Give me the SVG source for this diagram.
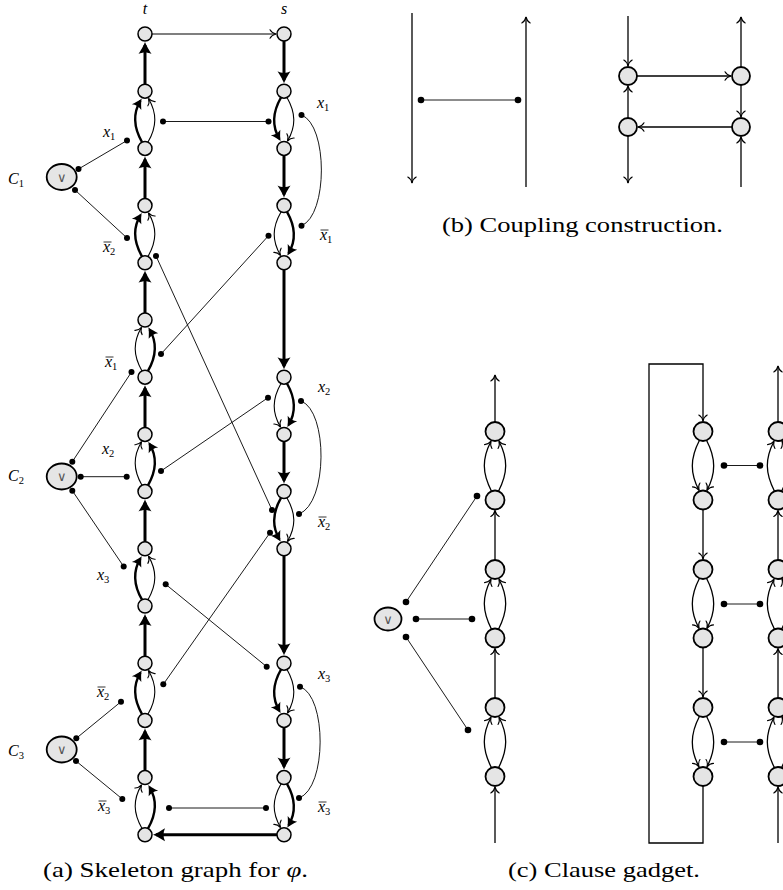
<svg xmlns="http://www.w3.org/2000/svg" width="783" height="890" viewBox="0 0 783 890">
<defs>
<style>
.n{fill:#e5e5e5;stroke:#000;stroke-width:1.5}
.nb{fill:#e5e5e5;stroke:#000;stroke-width:1.8}
.thin{fill:none;stroke:#000;stroke-width:1.1;marker-end:url(#ah)}
.thin2{fill:none;stroke:#000;stroke-width:1.3;marker-end:url(#ah)}
.thk{fill:none;stroke:#000;stroke-width:3;marker-end:url(#ahk)}
.thka{fill:none;stroke:#000;stroke-width:2.4;marker-end:url(#ahs)}
.cp{fill:none;stroke:#000;stroke-width:0.9}
.dot{fill:#000}
.lab{font-family:"Liberation Serif","Times New Roman",serif;font-style:italic;font-size:16px}
.sub{font-style:normal;font-size:10.5px}
.bar{stroke:#000;stroke-width:0.8}
.or{font-family:"DejaVu Sans",sans-serif;font-size:13px;fill:#555;text-anchor:middle}
.cap{font-family:"Liberation Serif","Times New Roman",serif;font-size:22px}
</style>
<marker id="ah" viewBox="-8 -6 10 12" refX="0" refY="0" markerWidth="10" markerHeight="12" markerUnits="userSpaceOnUse" orient="auto" overflow="visible">
<path d="M-6,-4.2 C-4.8,-1.8 -2,-0.5 0,0 C-2,0.5 -4.8,1.8 -6,4.2" fill="none" stroke="#000" stroke-width="1.1" stroke-linecap="round"/>
</marker>
<marker id="ahk" viewBox="-14 -8 16 16" refX="-3" refY="0" markerWidth="16" markerHeight="16" markerUnits="userSpaceOnUse" orient="auto" overflow="visible">
<path d="M0,0 C-4,-1.5 -8,-4 -12,-6.5 C-10,-2.5 -10,2.5 -12,6.5 C-8,4 -4,1.5 0,0 Z" fill="#000"/>
</marker>
<marker id="ahs" viewBox="-12 -7 14 14" refX="-2.5" refY="0" markerWidth="14" markerHeight="14" markerUnits="userSpaceOnUse" orient="auto" overflow="visible">
<path d="M0,0 C-3.5,-1.2 -6.5,-3.2 -10,-5.5 C-8.3,-2 -8.3,2 -10,5.5 C-6.5,3.2 -3.5,1.2 0,0 Z" fill="#000"/>
</marker>
</defs>
<rect x="0" y="0" width="783" height="890" fill="#fff"/>

<!-- (a) connectors -->
<g id="connectors-a">
<path class="thin" d="M152,34 H276"/>
<path class="thk" d="M277,834.8 H156"/>
<path class="thk" d="M145,84.2 V45"/>
<path class="thk" d="M145,198.6 V159.4"/>
<path class="thk" d="M145,313 V273.8"/>
<path class="thk" d="M145,427.4 V388.2"/>
<path class="thk" d="M145,541.8 V502.6"/>
<path class="thk" d="M145,656.2 V617"/>
<path class="thk" d="M145,770.6 V731.4"/>
<path class="thk" d="M284,41 V80.2"/>
<path class="thk" d="M284,155.4 V194.6"/>
<path class="thk" d="M284,269.8 V366.2"/>
<path class="thk" d="M284,441.4 V480.6"/>
<path class="thk" d="M284,555.8 V652.2"/>
<path class="thk" d="M284,727.4 V766.6"/>
<path class="thka" d="M142,142.1 C133,126.4 133,113.2 140.4,100.7"/>
<path class="thin" d="M148,142.1 C157,126.4 157,113.2 148.5,98.5"/>
<path class="thka" d="M142,256.5 C133,240.8 133,227.6 140.4,215.1"/>
<path class="thin" d="M148,256.5 C157,240.8 157,227.6 148.5,212.9"/>
<path class="thin" d="M142,370.9 C133,355.2 133,342 141.5,327.3"/>
<path class="thka" d="M148,370.9 C157,355.2 157,342 149.6,329.5"/>
<path class="thin" d="M142,485.3 C133,469.6 133,456.4 141.5,441.7"/>
<path class="thka" d="M148,485.3 C157,469.6 157,456.4 149.6,443.9"/>
<path class="thka" d="M142,599.7 C133,584 133,570.8 140.4,558.3"/>
<path class="thin" d="M148,599.7 C157,584 157,570.8 148.5,556.1"/>
<path class="thka" d="M142,714.1 C133,698.4 133,685.2 140.4,672.7"/>
<path class="thin" d="M148,714.1 C157,698.4 157,685.2 148.5,670.5"/>
<path class="thin" d="M142,828.5 C133,812.8 133,799.6 141.5,784.9"/>
<path class="thka" d="M148,828.5 C157,812.8 157,799.6 149.6,787.1"/>
<path class="thka" d="M281,97.5 C272,113.2 272,126.4 279.4,138.9"/>
<path class="thin" d="M287,97.5 C296,113.2 296,126.4 287.5,141.1"/>
<path class="thin" d="M281,211.9 C272,227.6 272,240.8 280.5,255.5"/>
<path class="thka" d="M287,211.9 C296,227.6 296,240.8 288.6,253.3"/>
<path class="thin" d="M281,383.5 C272,399.2 272,412.4 280.5,427.1"/>
<path class="thka" d="M287,383.5 C296,399.2 296,412.4 288.6,424.9"/>
<path class="thka" d="M281,497.9 C272,513.6 272,526.8 279.4,539.3"/>
<path class="thin" d="M287,497.9 C296,513.6 296,526.8 287.5,541.5"/>
<path class="thka" d="M281,669.5 C272,685.2 272,698.4 279.4,710.9"/>
<path class="thin" d="M287,669.5 C296,685.2 296,698.4 287.5,713.1"/>
<path class="thin" d="M281,783.9 C272,799.6 272,812.8 280.5,827.5"/>
<path class="thka" d="M287,783.9 C296,799.6 296,812.8 288.6,825.3"/>
<path class="cp" d="M127,140.5 L78.5,169"/>
<path class="cp" d="M75,190 L127,238"/>
<path class="cp" d="M163,121.5 H268.5"/>
<path class="cp" d="M301.5,115 C328,125 328,215 301.5,225.7"/>
<path class="cp" d="M156,256 L272,510"/>
<path class="cp" d="M268.5,235.7 L161,354"/>
<path class="cp" d="M131.5,372 L72.3,461.7"/>
<path class="cp" d="M126.7,476.7 H80.7"/>
<path class="cp" d="M161,471 L268,397.7"/>
<path class="cp" d="M301,401 C328,411 328,503 299,514"/>
<path class="cp" d="M72.3,490.7 L123.7,566.5"/>
<path class="cp" d="M270,532.7 L163.3,684.3"/>
<path class="cp" d="M165.7,584.3 L266.7,666.7"/>
<path class="cp" d="M300,686.7 C327,696 327,788 299,798"/>
<path class="cp" d="M121,701.7 L76.3,738.3"/>
<path class="cp" d="M76,761 L122.3,799"/>
<path class="cp" d="M169,808 H266"/>
</g>
<g id="dots-a">
<circle class="dot" cx="127" cy="140.5" r="3"/><circle class="dot" cx="78.5" cy="169" r="3"/>
<circle class="dot" cx="75" cy="190" r="3"/><circle class="dot" cx="127" cy="238" r="3"/>
<circle class="dot" cx="163" cy="121.5" r="3"/><circle class="dot" cx="268.5" cy="121.5" r="3"/>
<circle class="dot" cx="301.5" cy="115" r="3"/><circle class="dot" cx="301.5" cy="225.7" r="3"/>
<circle class="dot" cx="156" cy="256" r="3"/><circle class="dot" cx="272" cy="510" r="3"/>
<circle class="dot" cx="268.5" cy="235.7" r="3"/><circle class="dot" cx="161" cy="354" r="3"/>
<circle class="dot" cx="131.5" cy="372" r="3"/><circle class="dot" cx="72.3" cy="461.7" r="3"/>
<circle class="dot" cx="126.7" cy="476.7" r="3"/><circle class="dot" cx="80.7" cy="476.7" r="3"/>
<circle class="dot" cx="161" cy="471" r="3"/><circle class="dot" cx="268" cy="397.7" r="3"/>
<circle class="dot" cx="301" cy="401" r="3"/><circle class="dot" cx="299" cy="514" r="3"/>
<circle class="dot" cx="72.3" cy="490.7" r="3"/><circle class="dot" cx="123.7" cy="566.5" r="3"/>
<circle class="dot" cx="270" cy="532.7" r="3"/><circle class="dot" cx="163.3" cy="684.3" r="3"/>
<circle class="dot" cx="165.7" cy="584.3" r="3"/><circle class="dot" cx="266.7" cy="666.7" r="3"/>
<circle class="dot" cx="300" cy="686.7" r="3"/><circle class="dot" cx="299" cy="798" r="3"/>
<circle class="dot" cx="121" cy="701.7" r="3"/><circle class="dot" cx="76.3" cy="738.3" r="3"/>
<circle class="dot" cx="76" cy="761" r="3"/><circle class="dot" cx="122.3" cy="799" r="3"/>
<circle class="dot" cx="169" cy="808" r="3"/><circle class="dot" cx="266" cy="808" r="3"/>
</g>

<g id="t0"><circle class="n" cx="145" cy="34" r="7"/></g>
<g id="t1"><circle class="n" cx="145" cy="91.2" r="7"/></g>
<g id="t2"><circle class="n" cx="145" cy="148.4" r="7"/></g>
<g id="t3"><circle class="n" cx="145" cy="205.6" r="7"/></g>
<g id="t4"><circle class="n" cx="145" cy="262.8" r="7"/></g>
<g id="t5"><circle class="n" cx="145" cy="320" r="7"/></g>
<g id="t6"><circle class="n" cx="145" cy="377.2" r="7"/></g>
<g id="t7"><circle class="n" cx="145" cy="434.4" r="7"/></g>
<g id="t8"><circle class="n" cx="145" cy="491.6" r="7"/></g>
<g id="t9"><circle class="n" cx="145" cy="548.8" r="7"/></g>
<g id="t10"><circle class="n" cx="145" cy="606" r="7"/></g>
<g id="t11"><circle class="n" cx="145" cy="663.2" r="7"/></g>
<g id="t12"><circle class="n" cx="145" cy="720.4" r="7"/></g>
<g id="t13"><circle class="n" cx="145" cy="777.6" r="7"/></g>
<g id="t14"><circle class="n" cx="145" cy="834.8" r="7"/></g>
<g id="s0"><circle class="n" cx="284" cy="34" r="7"/></g>
<g id="s1"><circle class="n" cx="284" cy="91.2" r="7"/></g>
<g id="s2"><circle class="n" cx="284" cy="148.4" r="7"/></g>
<g id="s3"><circle class="n" cx="284" cy="205.6" r="7"/></g>
<g id="s4"><circle class="n" cx="284" cy="262.8" r="7"/></g>
<g id="s6"><circle class="n" cx="284" cy="377.2" r="7"/></g>
<g id="s7"><circle class="n" cx="284" cy="434.4" r="7"/></g>
<g id="s8"><circle class="n" cx="284" cy="491.6" r="7"/></g>
<g id="s9"><circle class="n" cx="284" cy="548.8" r="7"/></g>
<g id="s11"><circle class="n" cx="284" cy="663.2" r="7"/></g>
<g id="s12"><circle class="n" cx="284" cy="720.4" r="7"/></g>
<g id="s13"><circle class="n" cx="284" cy="777.6" r="7"/></g>
<g id="s14"><circle class="n" cx="284" cy="834.8" r="7"/></g>
<g id="C1"><ellipse class="nb" cx="61.7" cy="177" rx="15" ry="13"/><text class="or" x="61.7" y="181.5">∨</text></g>
<g id="C2"><ellipse class="nb" cx="61.7" cy="476.5" rx="15" ry="13"/><text class="or" x="61.7" y="481">∨</text></g>
<g id="C3"><ellipse class="nb" cx="61.7" cy="749.5" rx="15" ry="13"/><text class="or" x="61.7" y="754">∨</text></g>

<g id="labels-a">
<text class="lab" x="145" y="14" text-anchor="middle" font-size="15">t</text>
<text class="lab" x="284" y="14" text-anchor="middle" font-size="15">s</text>
<text class="lab" x="8" y="184" font-size="17">C<tspan class="sub" dy="3">1</tspan></text>
<text class="lab" x="8" y="481" font-size="17">C<tspan class="sub" dy="3">2</tspan></text>
<text class="lab" x="8" y="756" font-size="17">C<tspan class="sub" dy="3">3</tspan></text>
<text class="lab" x="103" y="137">x<tspan class="sub" dy="3">1</tspan></text>
<text class="lab" x="103" y="252">x<tspan class="sub" dy="3">2</tspan></text><line class="bar" x1="103.5" y1="242" x2="111.5" y2="242"/>
<text class="lab" x="105" y="367">x<tspan class="sub" dy="3">1</tspan></text><line class="bar" x1="105.5" y1="357" x2="113.5" y2="357"/>
<text class="lab" x="102" y="454">x<tspan class="sub" dy="3">2</tspan></text>
<text class="lab" x="97" y="580">x<tspan class="sub" dy="3">3</tspan></text>
<text class="lab" x="97" y="697">x<tspan class="sub" dy="3">2</tspan></text><line class="bar" x1="97.5" y1="687" x2="105.5" y2="687"/>
<text class="lab" x="98" y="811">x<tspan class="sub" dy="3">3</tspan></text><line class="bar" x1="98.5" y1="801" x2="106.5" y2="801"/>
<text class="lab" x="317" y="108">x<tspan class="sub" dy="3">1</tspan></text>
<text class="lab" x="320" y="240">x<tspan class="sub" dy="3">1</tspan></text><line class="bar" x1="320.5" y1="230" x2="328.5" y2="230"/>
<text class="lab" x="318" y="392">x<tspan class="sub" dy="3">2</tspan></text>
<text class="lab" x="318" y="527">x<tspan class="sub" dy="3">2</tspan></text><line class="bar" x1="318.5" y1="517" x2="326.5" y2="517"/>
<text class="lab" x="318" y="679">x<tspan class="sub" dy="3">3</tspan></text>
<text class="lab" x="318" y="812">x<tspan class="sub" dy="3">3</tspan></text><line class="bar" x1="318.5" y1="802" x2="326.5" y2="802"/>
</g>
<text class="cap" x="43" y="877" textLength="265" lengthAdjust="spacingAndGlyphs">(a) Skeleton graph for <tspan font-style="italic">φ</tspan>.</text>

<g id="connectors-b">
<path class="thin2" d="M412,13 V183"/>
<path class="thin2" d="M526,187 V17"/>
<path class="cp" d="M421,100 H518" stroke-width="1.1"/>
<path class="thin2" d="M628,16 V66"/>
<path class="thin2" d="M637,76 H731"/>
<path class="thin2" d="M741,67 V17"/>
<path class="thin2" d="M741,85 V117"/>
<path class="thin2" d="M732,127 H638"/>
<path class="thin2" d="M628,118 V86"/>
<path class="thin2" d="M628,136 V183"/>
<path class="thin2" d="M741,187 V137"/>
</g>
<circle class="dot" cx="421" cy="100" r="3.3"/><circle class="dot" cx="518" cy="100" r="3.3"/>
<g id="b1"><circle class="nb" cx="628" cy="76" r="9"/></g>
<g id="b2"><circle class="nb" cx="741" cy="76" r="9"/></g>
<g id="b3"><circle class="nb" cx="628" cy="127" r="9"/></g>
<g id="b4"><circle class="nb" cx="741" cy="127" r="9"/></g>
<text class="cap" x="442" y="232" textLength="281" lengthAdjust="spacingAndGlyphs">(b) Coupling construction.</text>

<g id="connectors-c">
<path class="thin2" d="M495,422 V375"/>
<path class="thin2" d="M495,560 V510.5"/>
<path class="thin2" d="M495,698 V648.5"/>
<path class="thin2" d="M495,843 V787"/>
<path class="thin2" d="M491.5,491.2 C482,473 482,458.5 491,441.2"/>
<path class="thin2" d="M498.5,491.2 C508,473 508,458.5 499,441.2"/>
<path class="thin2" d="M491.5,629.2 C482,611 482,596.5 491,579.2"/>
<path class="thin2" d="M498.5,629.2 C508,611 508,596.5 499,579.2"/>
<path class="thin2" d="M491.5,767.7 C482,749.5 482,734.5 491,717.2"/>
<path class="thin2" d="M498.5,767.7 C508,749.5 508,734.5 499,717.2"/>
<path class="cp" d="M406,602 L477,496"/>
<path class="cp" d="M416,619 H472"/>
<path class="cp" d="M406,637 L468,730"/>
<path class="thin2" d="M703,786 V843 H649 V364 H703 V421"/>
<path class="thin2" d="M703,509.5 V559"/>
<path class="thin2" d="M703,647.5 V697"/>
<path class="thin2" d="M699.5,440.3 C690,458.5 690,473 699,490.3"/>
<path class="thin2" d="M706.5,440.3 C716,458.5 716,473 707,490.3"/>
<path class="thin2" d="M699.5,578.3 C690,596.5 690,611 699,628.3"/>
<path class="thin2" d="M706.5,578.3 C716,596.5 716,611 707,628.3"/>
<path class="thin2" d="M699.5,716.3 C690,734.5 690,749.5 699,766.8"/>
<path class="thin2" d="M706.5,716.3 C716,734.5 716,749.5 707,766.8"/>
<path class="cp" d="M724,465.5 H760" stroke-width="1.1"/>
<path class="cp" d="M724,604 H760" stroke-width="1.1"/>
<path class="cp" d="M724,742 H760" stroke-width="1.1"/>
<path class="thin2" d="M778,422 V366"/>
<path class="thin2" d="M778,560 V510.5"/>
<path class="thin2" d="M778,698 V648.5"/>
<path class="thin2" d="M778,843 V787"/>
<path class="thin2" d="M774.5,491.2 C765,473 765,458.5 774,441.2"/>
<path class="thin2" d="M781.5,491.2 C791,473 791,458.5 782,441.2"/>
<path class="thin2" d="M774.5,629.2 C765,611 765,596.5 774,579.2"/>
<path class="thin2" d="M781.5,629.2 C791,611 791,596.5 782,579.2"/>
<path class="thin2" d="M774.5,767.7 C765,749.5 765,734.5 774,717.2"/>
<path class="thin2" d="M781.5,767.7 C791,749.5 791,734.5 782,717.2"/>
</g>
<g id="dots-c">
<circle class="dot" cx="406" cy="602" r="3.3"/><circle class="dot" cx="477" cy="496" r="3.3"/>
<circle class="dot" cx="416" cy="619" r="3.3"/><circle class="dot" cx="472" cy="619" r="3.3"/>
<circle class="dot" cx="406" cy="637" r="3.3"/><circle class="dot" cx="468" cy="730" r="3.3"/>
<circle class="dot" cx="724" cy="465.5" r="3.3"/><circle class="dot" cx="760" cy="465.5" r="3.3"/>
<circle class="dot" cx="724" cy="604" r="3.3"/><circle class="dot" cx="760" cy="604" r="3.3"/>
<circle class="dot" cx="724" cy="742" r="3.3"/><circle class="dot" cx="760" cy="742" r="3.3"/>
</g>
<g id="cOr"><ellipse class="nb" cx="388" cy="619" rx="13.5" ry="11.5"/><text class="or" x="388" y="623.5">∨</text></g>
<g id="cl1"><circle class="nb" cx="495" cy="431.5" r="9.5"/></g>
<g id="cl2"><circle class="nb" cx="495" cy="500" r="9.5"/></g>
<g id="cl3"><circle class="nb" cx="495" cy="569.5" r="9.5"/></g>
<g id="cl4"><circle class="nb" cx="495" cy="638" r="9.5"/></g>
<g id="cl5"><circle class="nb" cx="495" cy="707.5" r="9.5"/></g>
<g id="cl6"><circle class="nb" cx="495" cy="776.5" r="9.5"/></g>
<g id="cm1"><circle class="nb" cx="703" cy="431.5" r="9.5"/></g>
<g id="cm2"><circle class="nb" cx="703" cy="500" r="9.5"/></g>
<g id="cm3"><circle class="nb" cx="703" cy="569.5" r="9.5"/></g>
<g id="cm4"><circle class="nb" cx="703" cy="638" r="9.5"/></g>
<g id="cm5"><circle class="nb" cx="703" cy="707.5" r="9.5"/></g>
<g id="cm6"><circle class="nb" cx="703" cy="776.5" r="9.5"/></g>
<g id="cr1"><circle class="nb" cx="778" cy="431.5" r="9.5"/></g>
<g id="cr2"><circle class="nb" cx="778" cy="500" r="9.5"/></g>
<g id="cr3"><circle class="nb" cx="778" cy="569.5" r="9.5"/></g>
<g id="cr4"><circle class="nb" cx="778" cy="638" r="9.5"/></g>
<g id="cr5"><circle class="nb" cx="778" cy="707.5" r="9.5"/></g>
<g id="cr6"><circle class="nb" cx="778" cy="776.5" r="9.5"/></g>
<text class="cap" x="508" y="877" textLength="192" lengthAdjust="spacingAndGlyphs">(c) Clause gadget.</text>
</svg>
